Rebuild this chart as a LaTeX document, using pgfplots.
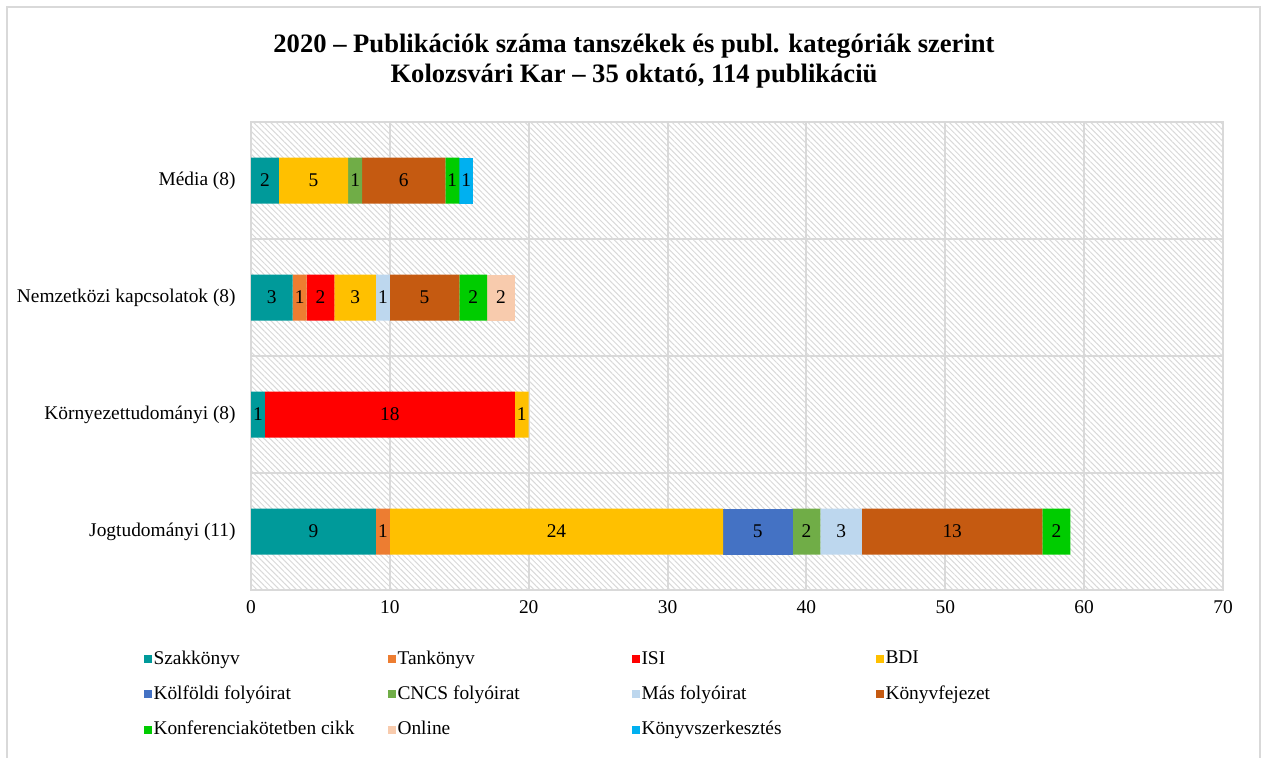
\documentclass[border=0pt]{standalone}
\usepackage{fontspec}
\setmainfont{Liberation Serif}
\usepackage{pgfplots}
\pgfplotsset{compat=1.18}
\usetikzlibrary{patterns.meta}

\definecolor{cSzak}{HTML}{009A9A}
\definecolor{cTank}{HTML}{ED7D31}
\definecolor{cISI}{HTML}{FF0000}
\definecolor{cBDI}{HTML}{FFC000}
\definecolor{cKulf}{HTML}{4472C4}
\definecolor{cCNCS}{HTML}{70AD47}
\definecolor{cMas}{HTML}{BDD7EE}
\definecolor{cKonyvf}{HTML}{C55A11}
\definecolor{cKonf}{HTML}{00CC00}
\definecolor{cOnline}{HTML}{F8CBAD}
\definecolor{cSzerk}{HTML}{00B0F0}
\definecolor{gridc}{HTML}{D9D9D9}

\newcommand{\txt}{\fontsize{9.7}{11}\selectfont}

\pgfplotsset{
  base/.style={
    at={(125.5pt,83.5pt)}, anchor=south west,
    scale only axis, width=486pt, height=234pt,
    xmin=0, xmax=70, ymin=-0.5, ymax=3.5,
  },
}

\begin{document}
\begin{tikzpicture}[font=\txt]
  \path[use as bounding box] (0,0) rectangle (630.5pt,378.5pt);
  \draw[gridc, line width=1pt] (3.5pt,-2pt) -- (3.5pt,375pt) -- (630pt,375pt) -- (630pt,-2pt);
  \node[font=\fontsize{13.3}{15.3}\selectfont\bfseries, align=center] at (317pt,348pt)
    {2020 – Publikációk száma tanszékek és publ. kategóriák szerint\\Kolozsvári Kar – 35 oktató, 114 publikáciü};

  \begin{axis}[base,
    xbar stacked, bar width=23pt,
    axis background/.style={pattern={Lines[angle=-45,distance=2pt,line width=0.5pt]}, pattern color=gridc},
    axis line style={gridc, line width=1pt},
    xtick={0,10,...,70}, xmajorgrids,
    major grid style={gridc, line width=1pt},
    ytick={0,1,2,3},
    yticklabels={Jogtudományi (11), Környezettudományi (8), Nemzetközi kapcsolatok (8), Média (8)},
    minor ytick={0.5,1.5,2.5}, yminorgrids,
    minor grid style={gridc, line width=1pt},
    major tick length=0pt, minor tick length=0pt,
    tick label style={font=\txt},
    xticklabel style={inner sep=0pt, anchor=north, yshift=-5pt},
    yticklabel style={inner sep=0pt, anchor=east, xshift=-7.5pt},
    /pgf/number format/assume math mode=true,
    legend columns=4, legend cell align=left,
    legend style={at={(-0.111,-0.125)}, anchor=north west, draw=none, fill=none,
      inner sep=0pt, font=\txt, nodes={inner sep=1pt}, row sep=7.3pt, column sep=0pt},
    legend image code/.code={\fill[#1] (0pt,-2pt) rectangle (4pt,2pt);},
  ]
    \addplot[fill=cSzak, draw=none] coordinates {(9,0) (1,1) (3,2) (2,3)};
    \addlegendentry{\makebox[116pt][l]{Szakkönyv}}
    \addplot[fill=cTank, draw=none] coordinates {(1,0) (0,1) (1,2) (0,3)};
    \addlegendentry{\makebox[116pt][l]{Tankönyv}}
    \addplot[fill=cISI, draw=none] coordinates {(0,0) (18,1) (2,2) (0,3)};
    \addlegendentry{\makebox[116pt][l]{ISI}}
    \addplot[fill=cBDI, draw=none] coordinates {(24,0) (1,1) (3,2) (5,3)};
    \addlegendentry{\makebox[116pt][l]{BDI}}
    \addplot[fill=cKulf, draw=none] coordinates {(5,0) (0,1) (0,2) (0,3)};
    \addlegendentry{\makebox[116pt][l]{Kölföldi folyóirat}}
    \addplot[fill=cCNCS, draw=none] coordinates {(2,0) (0,1) (0,2) (1,3)};
    \addlegendentry{\makebox[116pt][l]{CNCS folyóirat}}
    \addplot[fill=cMas, draw=none] coordinates {(3,0) (0,1) (1,2) (0,3)};
    \addlegendentry{\makebox[116pt][l]{Más folyóirat}}
    \addplot[fill=cKonyvf, draw=none] coordinates {(13,0) (0,1) (5,2) (6,3)};
    \addlegendentry{\makebox[116pt][l]{Könyvfejezet}}
    \addplot[fill=cKonf, draw=none] coordinates {(2,0) (0,1) (2,2) (1,3)};
    \addlegendentry{\makebox[116pt][l]{Konferenciakötetben cikk}}
    \addplot[fill=cOnline, draw=none] coordinates {(0,0) (0,1) (2,2) (0,3)};
    \addlegendentry{\makebox[116pt][l]{Online}}
    \addplot[fill=cSzerk, draw=none] coordinates {(0,0) (0,1) (0,2) (1,3)};
    \addlegendentry{\makebox[116pt][l]{Könyvszerkesztés}}
  \end{axis}

  % value labels at the middle of each segment
  \begin{axis}[base, hide axis]
    \addplot[draw=none, mark=none, nodes near coords, point meta=explicit symbolic,
      every node near coord/.style={anchor=center, inner sep=0pt, font=\txt, text=black}]
      coordinates {
        (1,3) [2] (4.5,3) [5] (7.5,3) [1] (11,3) [6] (14.5,3) [1] (15.5,3) [1]
        (1.5,2) [3] (3.5,2) [1] (5,2) [2] (7.5,2) [3] (9.5,2) [1] (12.5,2) [5] (16,2) [2] (18,2) [2]
        (0.5,1) [1] (10,1) [18] (19.5,1) [1]
        (4.5,0) [9] (9.5,0) [1] (22,0) [24] (36.5,0) [5] (40,0) [2] (42.5,0) [3] (50.5,0) [13] (58,0) [2]
      };
  \end{axis}
\end{tikzpicture}
\end{document}
